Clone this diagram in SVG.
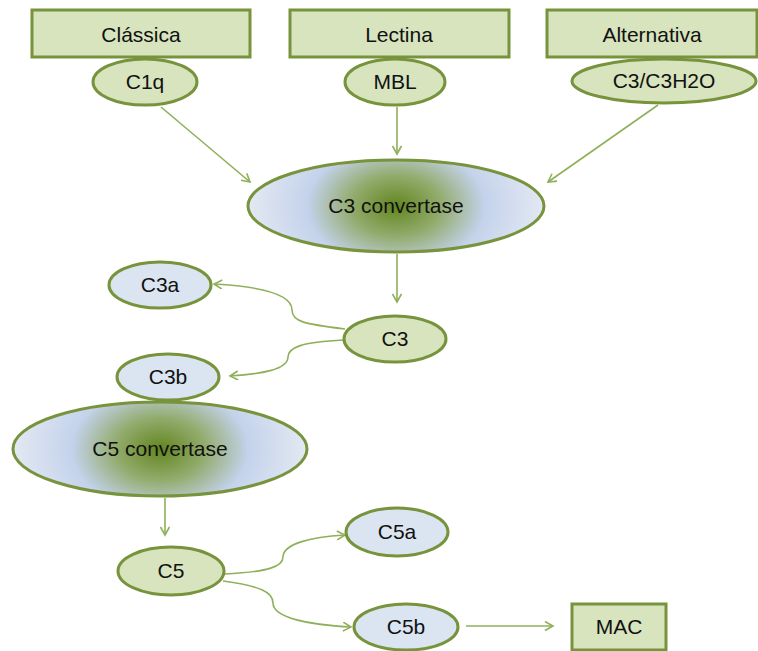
<svg xmlns="http://www.w3.org/2000/svg" width="758" height="651" viewBox="0 0 758 651">
<defs>
<style>
.box{fill:#d7e4bd;stroke:#77933c;stroke-width:3}
.g{fill:#d7e4bd;stroke:#77933c;stroke-width:3}
.b{fill:#dbe5f1;stroke:#77933c;stroke-width:3}
.cv{fill:url(#conv);stroke:#77933c;stroke-width:3}
text{font-family:"Liberation Sans",Arial,sans-serif;font-size:21px;fill:#111;text-anchor:middle}
.c{fill:none;stroke:#8fb05a;stroke-width:1.6}
</style>
<radialGradient id="conv" cx="0.5" cy="0.5" r="0.5" gradientTransform="translate(0.5,0.5) scale(1,2.2) translate(-0.5,-0.5)">
<stop offset="0" stop-color="#63861f"/>
<stop offset="0.3" stop-color="#92ab6c"/>
<stop offset="0.6" stop-color="#c4d2eb"/>
<stop offset="1" stop-color="#e3e9f3"/>
</radialGradient>
<marker id="ah" markerWidth="12" markerHeight="12" refX="9" refY="5" orient="auto" markerUnits="userSpaceOnUse">
<path d="M1,0.5 L9,5 L1,9.5" fill="none" stroke="#8fb05a" stroke-width="1.6"/>
</marker>
</defs>
<g id="connectors">
<path class="c" marker-end="url(#ah)" d="M161,107 L250,182"/>
<path class="c" marker-end="url(#ah)" d="M397,107 L397,154"/>
<path class="c" marker-end="url(#ah)" d="M658,105 L548,182"/>
<path class="c" marker-end="url(#ah)" d="M397,254 L397,302"/>
<path class="c" marker-end="url(#ah)" d="M345,329 C305,324 292,322 292,310 C292,292 250,286 214,284"/>
<path class="c" marker-end="url(#ah)" d="M344,340 C300,342 288,348 288,357 C288,370 260,374 230,376"/>
<path class="c" marker-end="url(#ah)" d="M165,498 L165,535"/>
<path class="c" marker-end="url(#ah)" d="M224,574 C270,572 283,566 283,557 C283,544 310,537 345,535"/>
<path class="c" marker-end="url(#ah)" d="M223,581 C260,586 273,592 273,603 C273,618 310,625 351,627"/>
<path class="c" marker-end="url(#ah)" d="M466,626 L553,626"/>
</g>
<g id="classica"><rect class="box" x="32" y="10" width="218" height="47"/><text x="141" y="42">Clássica</text></g>
<g id="lectina"><rect class="box" x="290" y="10" width="219" height="47"/><text x="399" y="42">Lectina</text></g>
<g id="alternativa"><rect class="box" x="547" y="10" width="210" height="47"/><text x="652" y="42">Alternativa</text></g>
<g id="c1q"><ellipse class="g" cx="145" cy="82" rx="52" ry="23"/><text x="145" y="89">C1q</text></g>
<g id="mbl"><ellipse class="g" cx="395" cy="82" rx="50" ry="23"/><text x="395" y="89">MBL</text></g>
<g id="c3c3h2o"><ellipse class="g" cx="664" cy="81" rx="92" ry="22"/><text x="664" y="88">C3/C3H2O</text></g>
<g id="c3conv"><ellipse class="cv" cx="396" cy="206" rx="148" ry="46"/><text x="396" y="213">C3 convertase</text></g>
<g id="c3a"><ellipse class="b" cx="160" cy="285" rx="51" ry="23"/><text x="160" y="292">C3a</text></g>
<g id="c3"><ellipse class="g" cx="395" cy="339" rx="51" ry="23"/><text x="395" y="346">C3</text></g>
<g id="c3b"><ellipse class="b" cx="168" cy="377" rx="51" ry="23"/><text x="168" y="384">C3b</text></g>
<g id="c5conv"><ellipse class="cv" cx="160" cy="449" rx="147" ry="47"/><text x="160" y="456">C5 convertase</text></g>
<g id="c5"><ellipse class="g" cx="171" cy="571" rx="53" ry="24"/><text x="171" y="578">C5</text></g>
<g id="c5a"><ellipse class="b" cx="397" cy="532" rx="51" ry="24"/><text x="397" y="539">C5a</text></g>
<g id="c5b"><ellipse class="b" cx="406" cy="627" rx="52" ry="23"/><text x="406" y="634">C5b</text></g>
<g id="mac"><rect class="box" x="572" y="604" width="94" height="46"/><text x="619" y="634">MAC</text></g>
</svg>
